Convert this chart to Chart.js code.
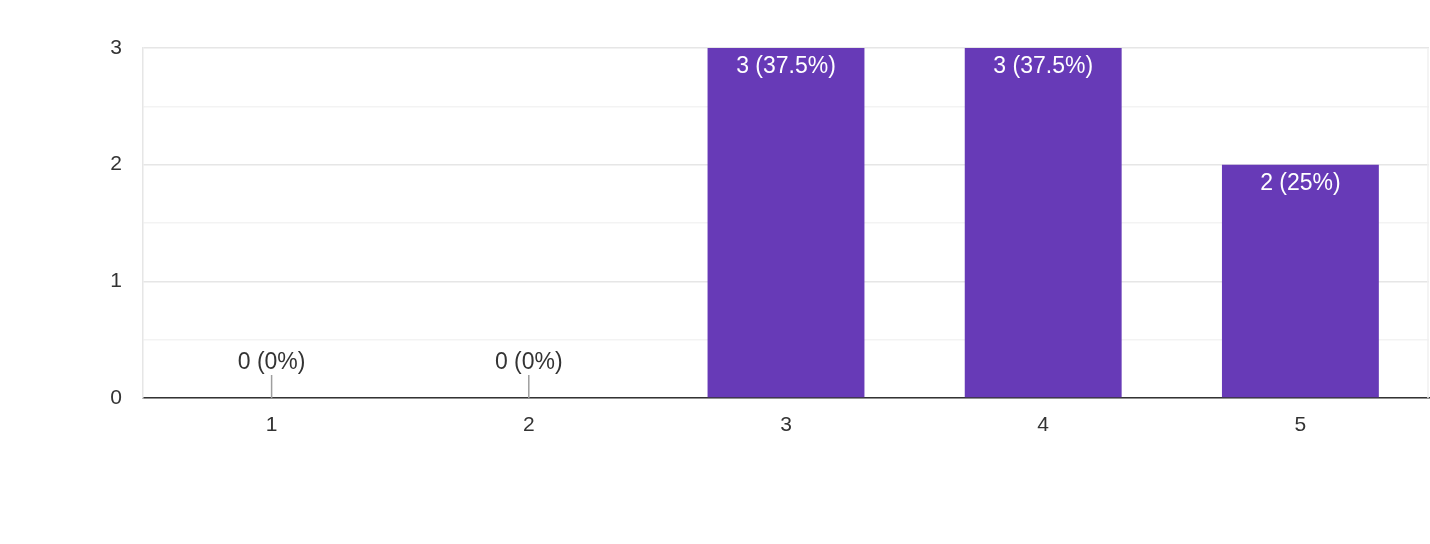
<!DOCTYPE html>
<html>
<head>
<meta charset="utf-8">
<script src="https://cdn.jsdelivr.net/npm/chart.js@4/dist/chart.umd.min.js"></script>
<style>
html,body{margin:0;padding:0;background:#fff;}
#wrap{width:1430px;height:544px;position:relative;}
</style>
</head>
<body>
<div id="wrap"><canvas id="c"></canvas></div>
<script>
const categories = ['1', '2', '3', '4', '5'];
const counts = [0, 0, 3, 3, 2];
const percents = ['0%', '0%', '37.5%', '37.5%', '25%'];
const yTicks = [0, 1, 2, 3];

const FONT = '"Liberation Sans", Arial, sans-serif';

const labelPlugin = {
  id: 'barLabels',
  beforeDatasetsDraw(chart) {
    const ctx = chart.ctx;
    const a = chart.chartArea;
    ctx.save();
    ctx.strokeStyle = '#f0f0f0';
    ctx.lineWidth = 1.5;
    ctx.beginPath();
    ctx.moveTo(a.right - 1, a.top);
    ctx.lineTo(a.right - 1, a.bottom);
    ctx.stroke();
    ctx.restore();
  },
  afterDatasetsDraw(chart) {
    const ctx = chart.ctx;
    const meta = chart.getDatasetMeta(0);
    ctx.save();
    ctx.font = '23px ' + FONT;
    ctx.textAlign = 'center';
    ctx.textBaseline = 'middle';
    meta.data.forEach((bar, i) => {
      const txt = counts[i] + ' (' + percents[i] + ')';
      if (counts[i] > 0) {
        ctx.fillStyle = '#ffffff';
        ctx.fillText(txt, bar.x, bar.y + 19);
      } else {
        ctx.strokeStyle = '#9e9e9e';
        ctx.lineWidth = 1.5;
        ctx.beginPath();
        ctx.moveTo(bar.x, bar.base);
        ctx.lineTo(bar.x, bar.base - 23);
        ctx.stroke();
        ctx.fillStyle = '#333333';
        ctx.fillText(txt, bar.x, bar.base - 35);
      }
    });
    ctx.restore();
  }
};

new Chart(document.getElementById('c'), {
  type: 'bar',
  data: {
    labels: categories,
    datasets: [{
      data: counts,
      backgroundColor: '#673ab7',
      borderWidth: 0,
      barPercentage: 0.61,
      categoryPercentage: 1.0
    }]
  },
  options: {
    responsive: true,
    maintainAspectRatio: false,
    animation: false,
    devicePixelRatio: 1,
    layout: { padding: { top: 48, right: 1, left: 0, bottom: 0 } },
    plugins: { legend: { display: false }, tooltip: { enabled: false } },
    scales: {
      x: {
        grid: { display: false, drawTicks: false },
        border: { color: '#333333', width: 1.5 },
        ticks: { color: '#333333', font: { size: 21, family: FONT }, padding: 15 },
        afterFit(scale) { scale.height = 146; }
      },
      y: {
        min: 0, max: 3,
        ticks: {
          stepSize: 0.5,
          color: '#333333',
          font: { size: 21, family: FONT },
          padding: 21,
          callback: (v) => yTicks.includes(v) ? String(v) : ''
        },
        grid: {
          drawTicks: false,
          color: (c) => (c.tick && Number.isInteger(c.tick.value)) ? '#e6e6e6' : '#f3f3f3',
          lineWidth: 1.5
        },
        border: { color: '#e6e6e6', width: 1.5 },
        afterFit(scale) { scale.width = 143; }
      }
    }
  },
  plugins: [labelPlugin]
});
</script>
</body>
</html>
